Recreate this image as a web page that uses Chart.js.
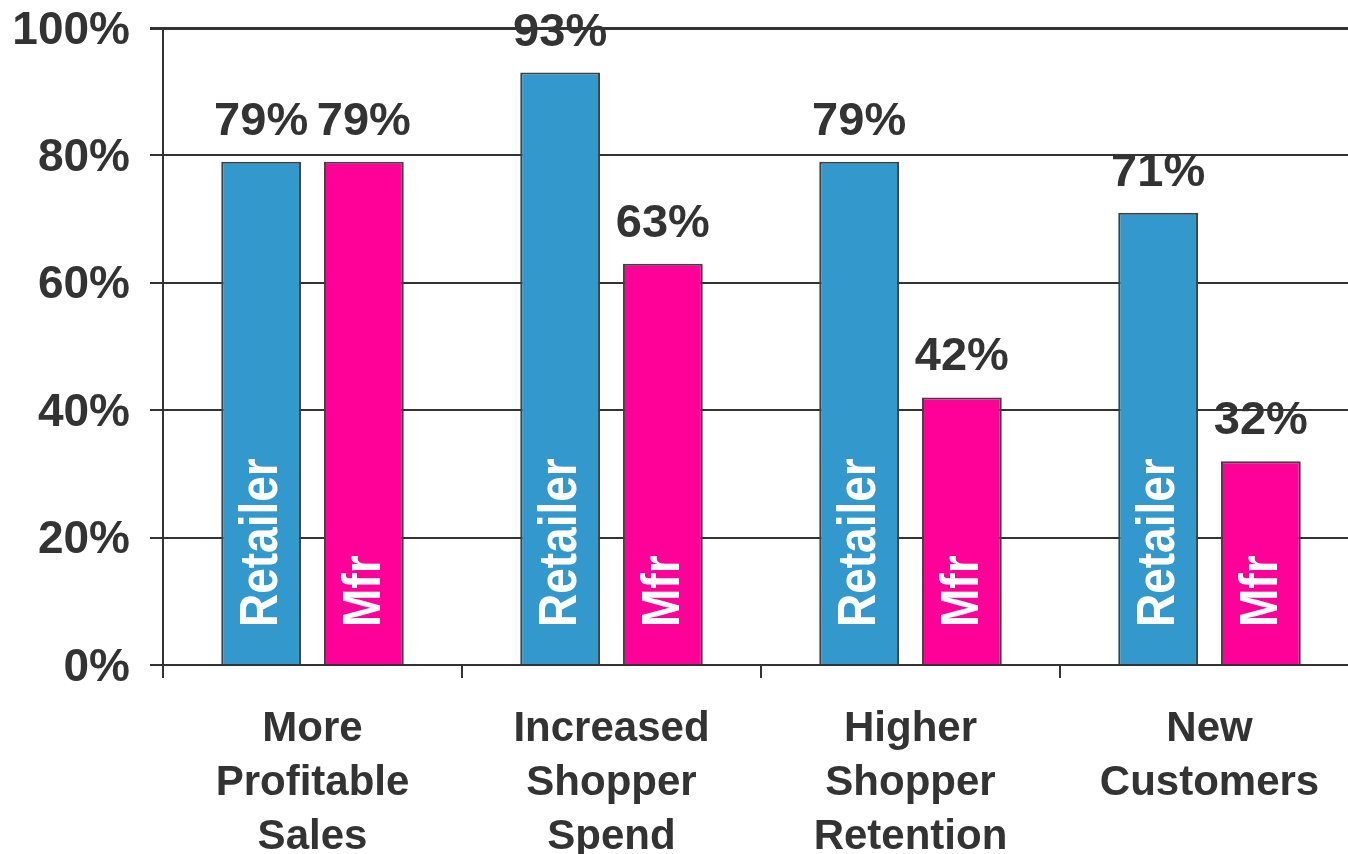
<!DOCTYPE html>
<html>
<head>
<meta charset="utf-8">
<title>Retailer vs Mfr benefits</title>
<script src="https://cdn.jsdelivr.net/npm/chart.js@4"></script>
<style>
  html, body { margin: 0; padding: 0; background: #fff; overflow: hidden; }
  canvas { display: block; }
</style>
</head>
<body>
<canvas id="benefitsChart" width="1359" height="854"></canvas>
<script>
const categories = [
    ["More", "Profitable", "Sales"],
    ["Increased", "Shopper", "Spend"],
    ["Higher", "Shopper", "Retention"],
    ["New", "Customers"]
];
const retailerValues = [79, 93, 79, 71];
const mfrValues = [79, 63, 42, 32];
const seriesNames = ["Retailer", "Mfr"];
const yTicks = [0, 20, 40, 60, 80, 100];

const ink = '#333333';
const fontFamily = '"Liberation Sans", Arial, sans-serif';

// percent above each bar, series name written up the bar
const barLabels = {
    id: 'barLabels',
    afterDatasetsDraw(chart) {
        const ctx = chart.ctx;
        chart.data.datasets.forEach((ds, i) => {
            const meta = chart.getDatasetMeta(i);
            meta.data.forEach((bar, j) => {
                const v = ds.data[j];
                ctx.save();
                ctx.fillStyle = ink;
                ctx.font = 'bold 47px ' + fontFamily;
                ctx.textAlign = 'center';
                ctx.textBaseline = 'alphabetic';
                ctx.fillText(v + '%', bar.x, bar.y - 27);
                ctx.restore();

                ctx.save();
                ctx.translate(bar.x + 16, bar.base - 37);
                ctx.rotate(-Math.PI / 2);
                ctx.scale(1, 1.18);
                ctx.fillStyle = '#ffffff';
                ctx.font = 'bold 46px ' + fontFamily;
                ctx.textAlign = 'left';
                ctx.textBaseline = 'alphabetic';
                ctx.fillText(ds.label, 0, 0);
                ctx.restore();
            });
        });
    }
};

const retailer = {
    label: seriesNames[0],
    data: retailerValues,
    backgroundColor: '#3399CC',
    borderColor: '#404040',
    borderWidth: 2,
    categoryPercentage: 0.687,
    barPercentage: 0.777
};

const mfr = {
    label: seriesNames[1],
    data: mfrValues,
    backgroundColor: '#FF0099',
    borderColor: '#404040',
    borderWidth: 2,
    categoryPercentage: 0.687,
    barPercentage: 0.777
};

const config = {
    type: 'bar',
    data: {
        labels: categories,
        datasets: [retailer, mfr]
    },
    options: {
        responsive: false,
        animation: false,
        layout: {
            padding: { top: 28, right: 0, bottom: 0, left: 0 }
        },
        plugins: {
            legend: { display: false },
            tooltip: { enabled: false }
        },
        scales: {
            x: {
                afterFit(scale) { scale.height = 189; },
                grid: {
                    offset: true,
                    drawOnChartArea: false,
                    drawTicks: true,
                    tickLength: 13,
                    color: ink,
                    lineWidth: 2
                },
                border: { color: ink, width: 2 },
                ticks: {
                    color: ink,
                    padding: 24,
                    maxRotation: 0,
                    autoSkip: false,
                    font: { family: fontFamily, size: 42, weight: 'bold', lineHeight: 1.29 }
                }
            },
            y: {
                min: 0,
                max: 100,
                afterFit(scale) {
                    scale.width = 163;
                    scale.paddingTop = 0;
                    scale.paddingBottom = 0;
                },
                afterBuildTicks(scale) {
                    scale.ticks = yTicks.map(v => ({ value: v }));
                },
                grid: {
                    color: ink,
                    lineWidth: ctx => ctx.tick && ctx.tick.value === 100 ? 3 : 2,
                    tickLength: 13
                },
                border: { color: ink, width: 2 },
                ticks: {
                    color: ink,
                    padding: 20,
                    labelOffset: 3,
                    font: { family: fontFamily, size: 46, weight: 'bold' },
                    callback: v => v + '%'
                }
            }
        }
    },
    plugins: [barLabels]
};

const benefitsChart = new Chart(document.getElementById('benefitsChart'), config);
</script>
</body>
</html>
